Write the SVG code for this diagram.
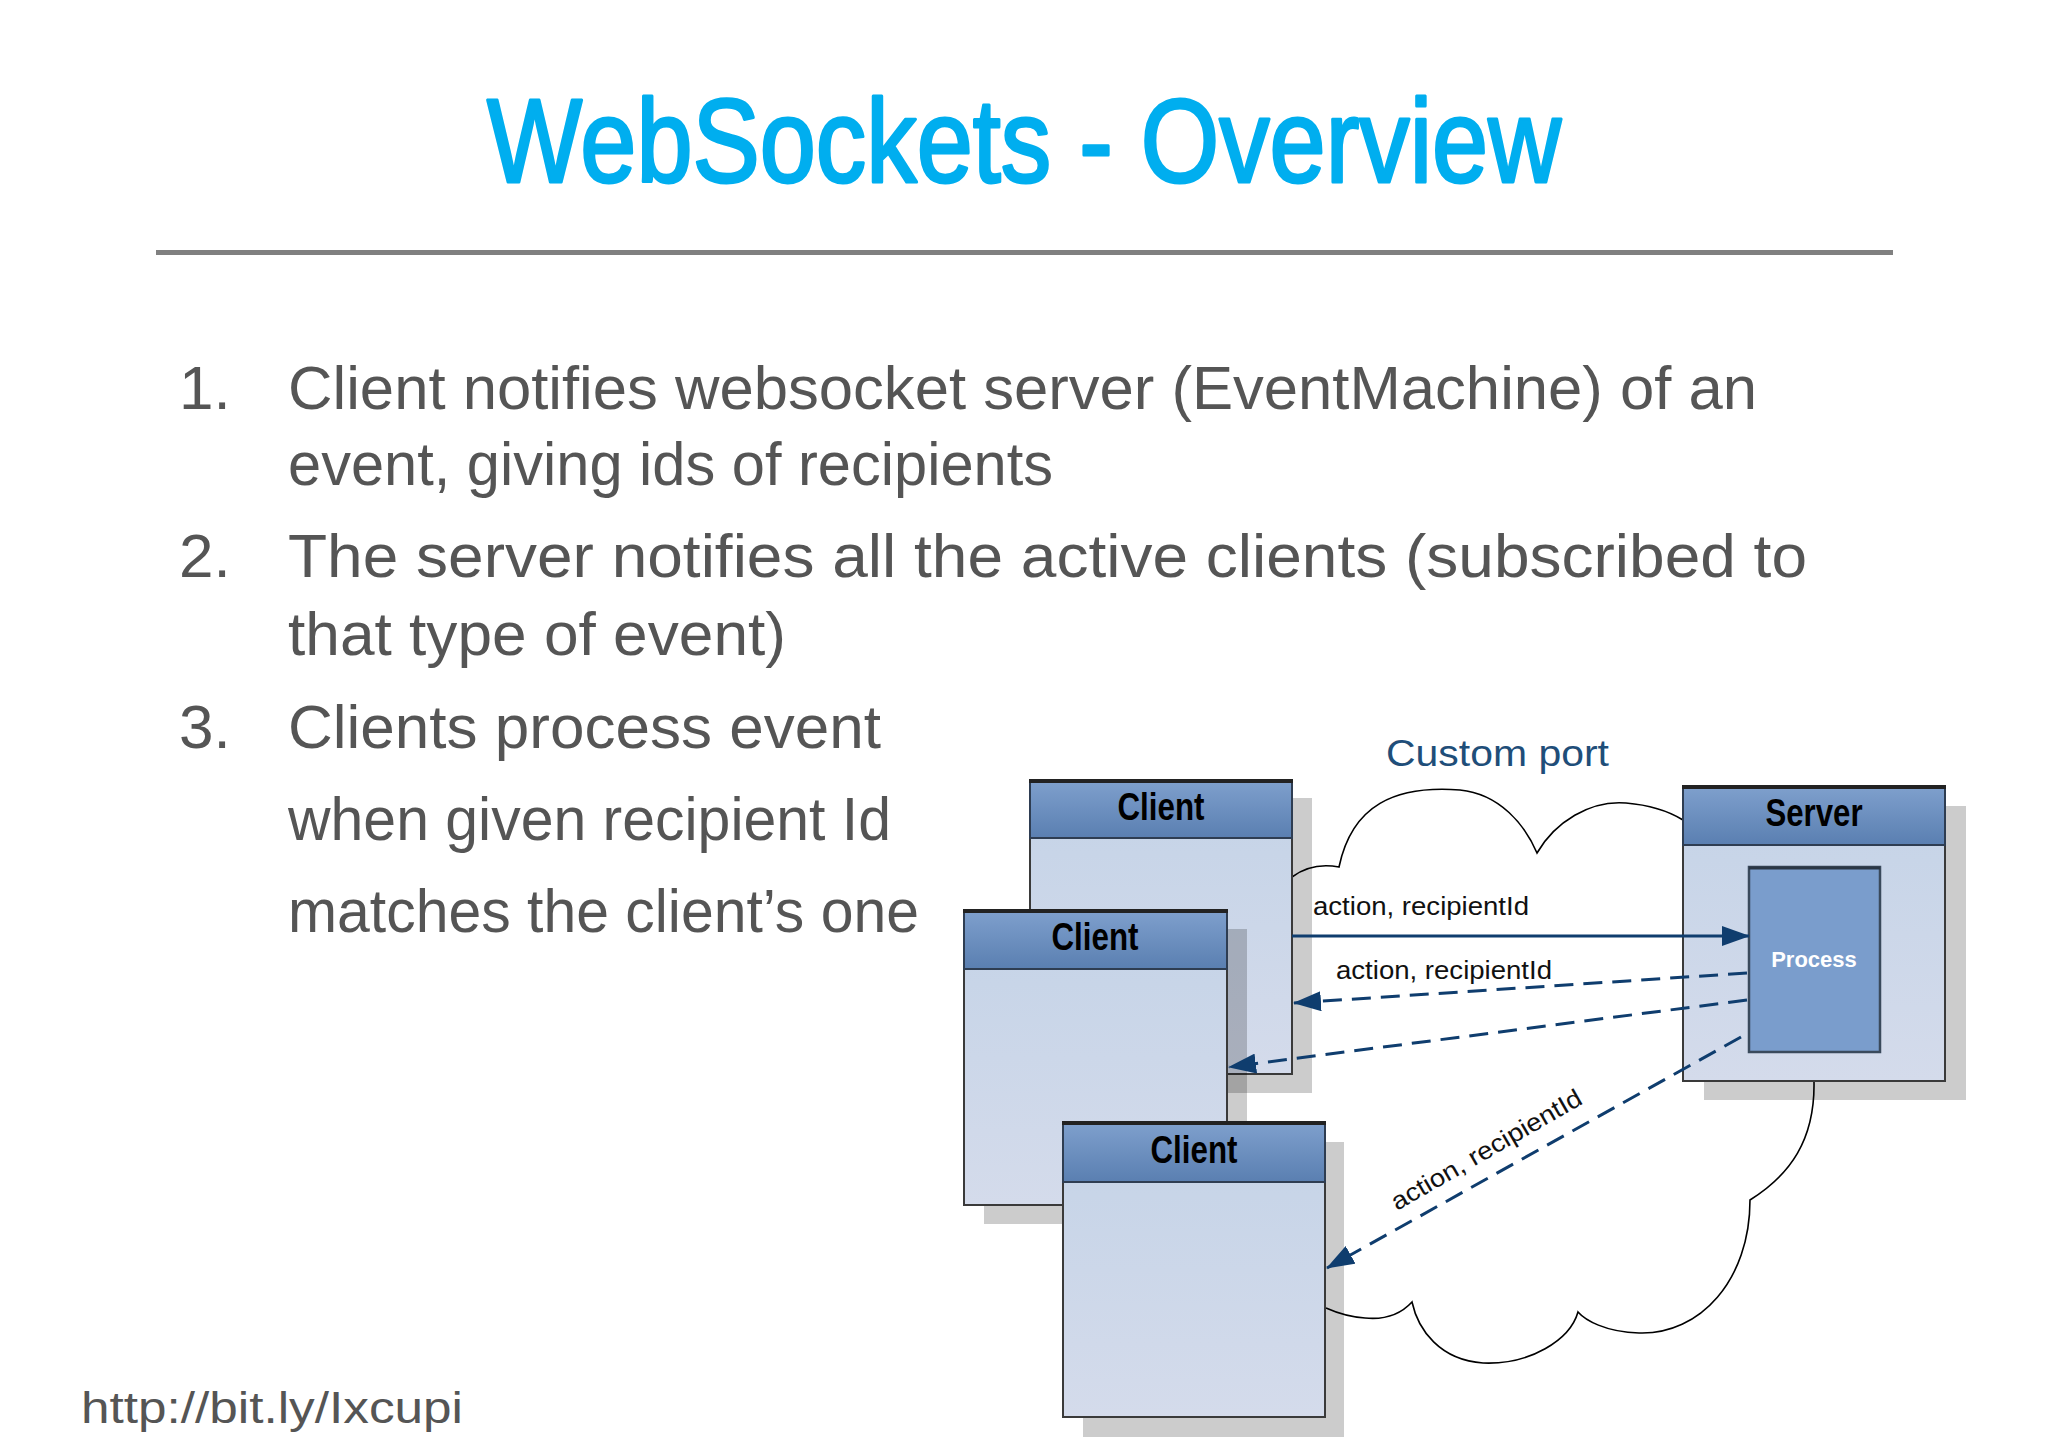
<svg xmlns="http://www.w3.org/2000/svg" width="2048" height="1447" viewBox="0 0 2048 1447">
<defs>
<linearGradient id="hdr" x1="0" y1="0" x2="0" y2="1"><stop offset="0" stop-color="#7fa0cd"/><stop offset="1" stop-color="#5a7fb1"/></linearGradient>
<linearGradient id="bdy" x1="0" y1="0" x2="0" y2="1"><stop offset="0" stop-color="#c4d3e7"/><stop offset="1" stop-color="#d4dbeb"/></linearGradient>
<marker id="ah" markerUnits="userSpaceOnUse" markerWidth="28" markerHeight="20" refX="27" refY="10" orient="auto"><path d="M0,0 L28,10 L0,20 z" fill="#0f3d6e"/></marker>
<style>
.title{font-family:"Liberation Sans",Arial,sans-serif;font-size:118px;fill:#00aeef;stroke:#00aeef;stroke-width:3;stroke-linejoin:round}
.body{font-family:"Liberation Sans",Arial,sans-serif;font-size:62px;fill:#555555}
.foot{font-family:"Liberation Sans",Arial,sans-serif;font-size:44px;fill:#555555}
.shadow{fill:#000;opacity:0.2}
.box{fill:url(#bdy);stroke:#3a3a3a;stroke-width:2}
.hdr{fill:url(#hdr);stroke:#2e3d52;stroke-width:2}
.topl{stroke:#222;stroke-width:4}
.nlabel{font-family:"Liberation Sans",Arial,sans-serif;font-weight:bold;font-size:39px;fill:#000;text-anchor:middle}
.proc{fill:#7a9dcc;stroke:#3a4a5c;stroke-width:2.5}
.ptext{font-family:"Liberation Sans",Arial,sans-serif;font-weight:bold;font-size:22px;fill:#ffffff;text-anchor:middle}
.cloud{fill:none;stroke:#000;stroke-width:1.6}
.conn{fill:none;stroke:#0f3d6e;stroke-width:3}
.dash{stroke-dasharray:19 10}
.alabel{font-family:"Liberation Sans",Arial,sans-serif;font-size:25px;fill:#111}
.port{font-family:"Liberation Sans",Arial,sans-serif;font-size:37px;fill:#1f4e79}
</style>
</defs>
<rect width="2048" height="1447" fill="#ffffff"/>
<g id="title">
<text class="title" x="487" y="182" textLength="1074" lengthAdjust="spacingAndGlyphs">WebSockets - Overview</text>
<rect x="156" y="250" width="1737" height="5" fill="#808080"/>
</g>
<g id="bullets">
<text class="body" x="179" y="409">1.</text>
<text class="body" x="288" y="409" textLength="1469" lengthAdjust="spacingAndGlyphs">Client notifies websocket server (EventMachine) of an</text>
<text class="body" x="288" y="485" textLength="765" lengthAdjust="spacingAndGlyphs">event, giving ids of recipients</text>
<text class="body" x="179" y="577">2.</text>
<text class="body" x="288" y="577" textLength="1519" lengthAdjust="spacingAndGlyphs">The server notifies all the active clients (subscribed to</text>
<text class="body" x="288" y="655" textLength="498" lengthAdjust="spacingAndGlyphs">that type of event)</text>
<text class="body" x="179" y="748">3.</text>
<text class="body" x="288" y="748" textLength="593" lengthAdjust="spacingAndGlyphs">Clients process event</text>
<text class="body" x="288" y="840" textLength="603" lengthAdjust="spacingAndGlyphs">when given recipient Id</text>
<text class="body" x="288" y="932" textLength="631" lengthAdjust="spacingAndGlyphs">matches the client’s one</text>
</g>
<text id="footer" class="foot" x="81" y="1423" textLength="382" lengthAdjust="spacingAndGlyphs">http://bit.ly/Ixcupi</text>
<g id="cloud">
<path class="cloud" d="M1292,877 Q1312,862 1339,867 C1352,805 1395,785 1460,790 C1500,794 1525,825 1537,853 C1555,822 1590,800 1626,803 C1650,805 1670,812 1683,820"/>
<path class="cloud" d="M1814,1082 C1815,1140 1790,1175 1750,1200 C1750,1280 1700,1335 1639,1333 C1605,1332 1585,1320 1578,1312 C1570,1340 1530,1365 1483,1363 C1440,1360 1418,1330 1412,1302 C1400,1315 1385,1320 1365,1318 C1350,1317 1335,1312 1326,1308"/>
<text class="port" x="1386" y="766" textLength="223" lengthAdjust="spacingAndGlyphs">Custom port</text>
</g>
<g id="client1">
<rect class="shadow" x="1050" y="798" width="262" height="295"/>
<rect class="box" x="1030" y="780" width="262" height="294"/>
<rect class="hdr" x="1030" y="780" width="262" height="58"/>
<line class="topl" x1="1029" y1="781" x2="1293" y2="781"/>
<text class="nlabel" x="1161" y="820" textLength="87" lengthAdjust="spacingAndGlyphs">Client</text>
</g>
<g id="client2">
<rect class="shadow" x="984" y="929" width="263" height="295"/>
<rect class="box" x="964" y="910" width="263" height="295"/>
<rect class="hdr" x="964" y="910" width="263" height="59"/>
<line class="topl" x1="963" y1="911" x2="1228" y2="911"/>
<text class="nlabel" x="1095" y="950" textLength="87" lengthAdjust="spacingAndGlyphs">Client</text>
</g>
<g id="client3">
<rect class="shadow" x="1083" y="1142" width="261" height="295"/>
<rect class="box" x="1063" y="1122" width="262" height="295"/>
<rect class="hdr" x="1063" y="1122" width="262" height="60"/>
<line class="topl" x1="1062" y1="1123" x2="1326" y2="1123"/>
<text class="nlabel" x="1194" y="1163" textLength="87" lengthAdjust="spacingAndGlyphs">Client</text>
</g>
<g id="server">
<rect class="shadow" x="1704" y="806" width="262" height="294"/>
<rect class="box" x="1683" y="786" width="262" height="295"/>
<rect class="hdr" x="1683" y="786" width="262" height="59"/>
<line class="topl" x1="1682" y1="787" x2="1946" y2="787"/>
<text class="nlabel" x="1814" y="826" textLength="97" lengthAdjust="spacingAndGlyphs">Server</text>
</g>
<g id="process">
<rect class="proc" x="1749" y="867" width="131" height="185"/>
<line x1="1749" y1="868" x2="1880" y2="868" stroke="#2a3645" stroke-width="3"/>
<text class="ptext" x="1814" y="967">Process</text>
</g>
<g id="connectors">
<line class="conn" x1="1292" y1="936" x2="1749" y2="936" marker-end="url(#ah)"/>
<line class="conn dash" x1="1747" y1="973" x2="1294" y2="1003" marker-end="url(#ah)"/>
<line class="conn dash" x1="1747" y1="1000" x2="1229" y2="1067" marker-end="url(#ah)"/>
<line class="conn dash" x1="1741" y1="1037" x2="1327" y2="1268" marker-end="url(#ah)"/>
<text class="alabel" x="1313" y="915" textLength="216" lengthAdjust="spacingAndGlyphs">action, recipientId</text>
<text class="alabel" x="1336" y="979" textLength="216" lengthAdjust="spacingAndGlyphs">action, recipientId</text>
<text class="alabel" x="0" y="0" textLength="216" lengthAdjust="spacingAndGlyphs" transform="translate(1397,1211) rotate(-30)">action, recipientId</text>
</g>
</svg>
